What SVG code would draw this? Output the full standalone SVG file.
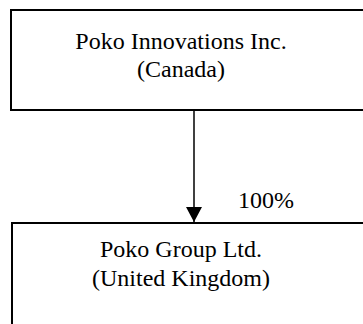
<svg xmlns="http://www.w3.org/2000/svg" width="363" height="324" viewBox="0 0 363 324">
  <style>
    .box { fill: #ffffff; stroke: #000000; stroke-width: 2; }
    .label { font-family: "Liberation Serif", "Times New Roman", serif; font-size: 24px; fill: #000000; text-anchor: middle; }
    .edge { stroke: #000000; stroke-width: 1.5; fill: none; }
  </style>
  <defs>
    <marker id="arrowhead" markerUnits="userSpaceOnUse" markerWidth="16" markerHeight="16" refX="15" refY="8" orient="auto">
      <path d="M0,0 L15,8 L0,16 Z" fill="#000000"/>
    </marker>
  </defs>
  <rect width="363" height="324" fill="#ffffff"/>

  <g id="connectors">
    <line class="edge" x1="194" y1="111" x2="194" y2="222" marker-end="url(#arrowhead)"/>
    <text class="label" x="266" y="208">100%</text>
  </g>

  <g id="poko-innovations">
    <rect class="box" x="11" y="10" width="370" height="100"/>
    <text class="label" x="181" y="49">Poko Innovations Inc.</text>
    <text class="label" x="181" y="77">(Canada)</text>
  </g>

  <g id="poko-group">
    <rect class="box" x="12" y="223" width="370" height="120"/>
    <text class="label" x="181" y="257">Poko Group Ltd.</text>
    <text class="label" x="181" y="286">(United Kingdom)</text>
  </g>
</svg>
